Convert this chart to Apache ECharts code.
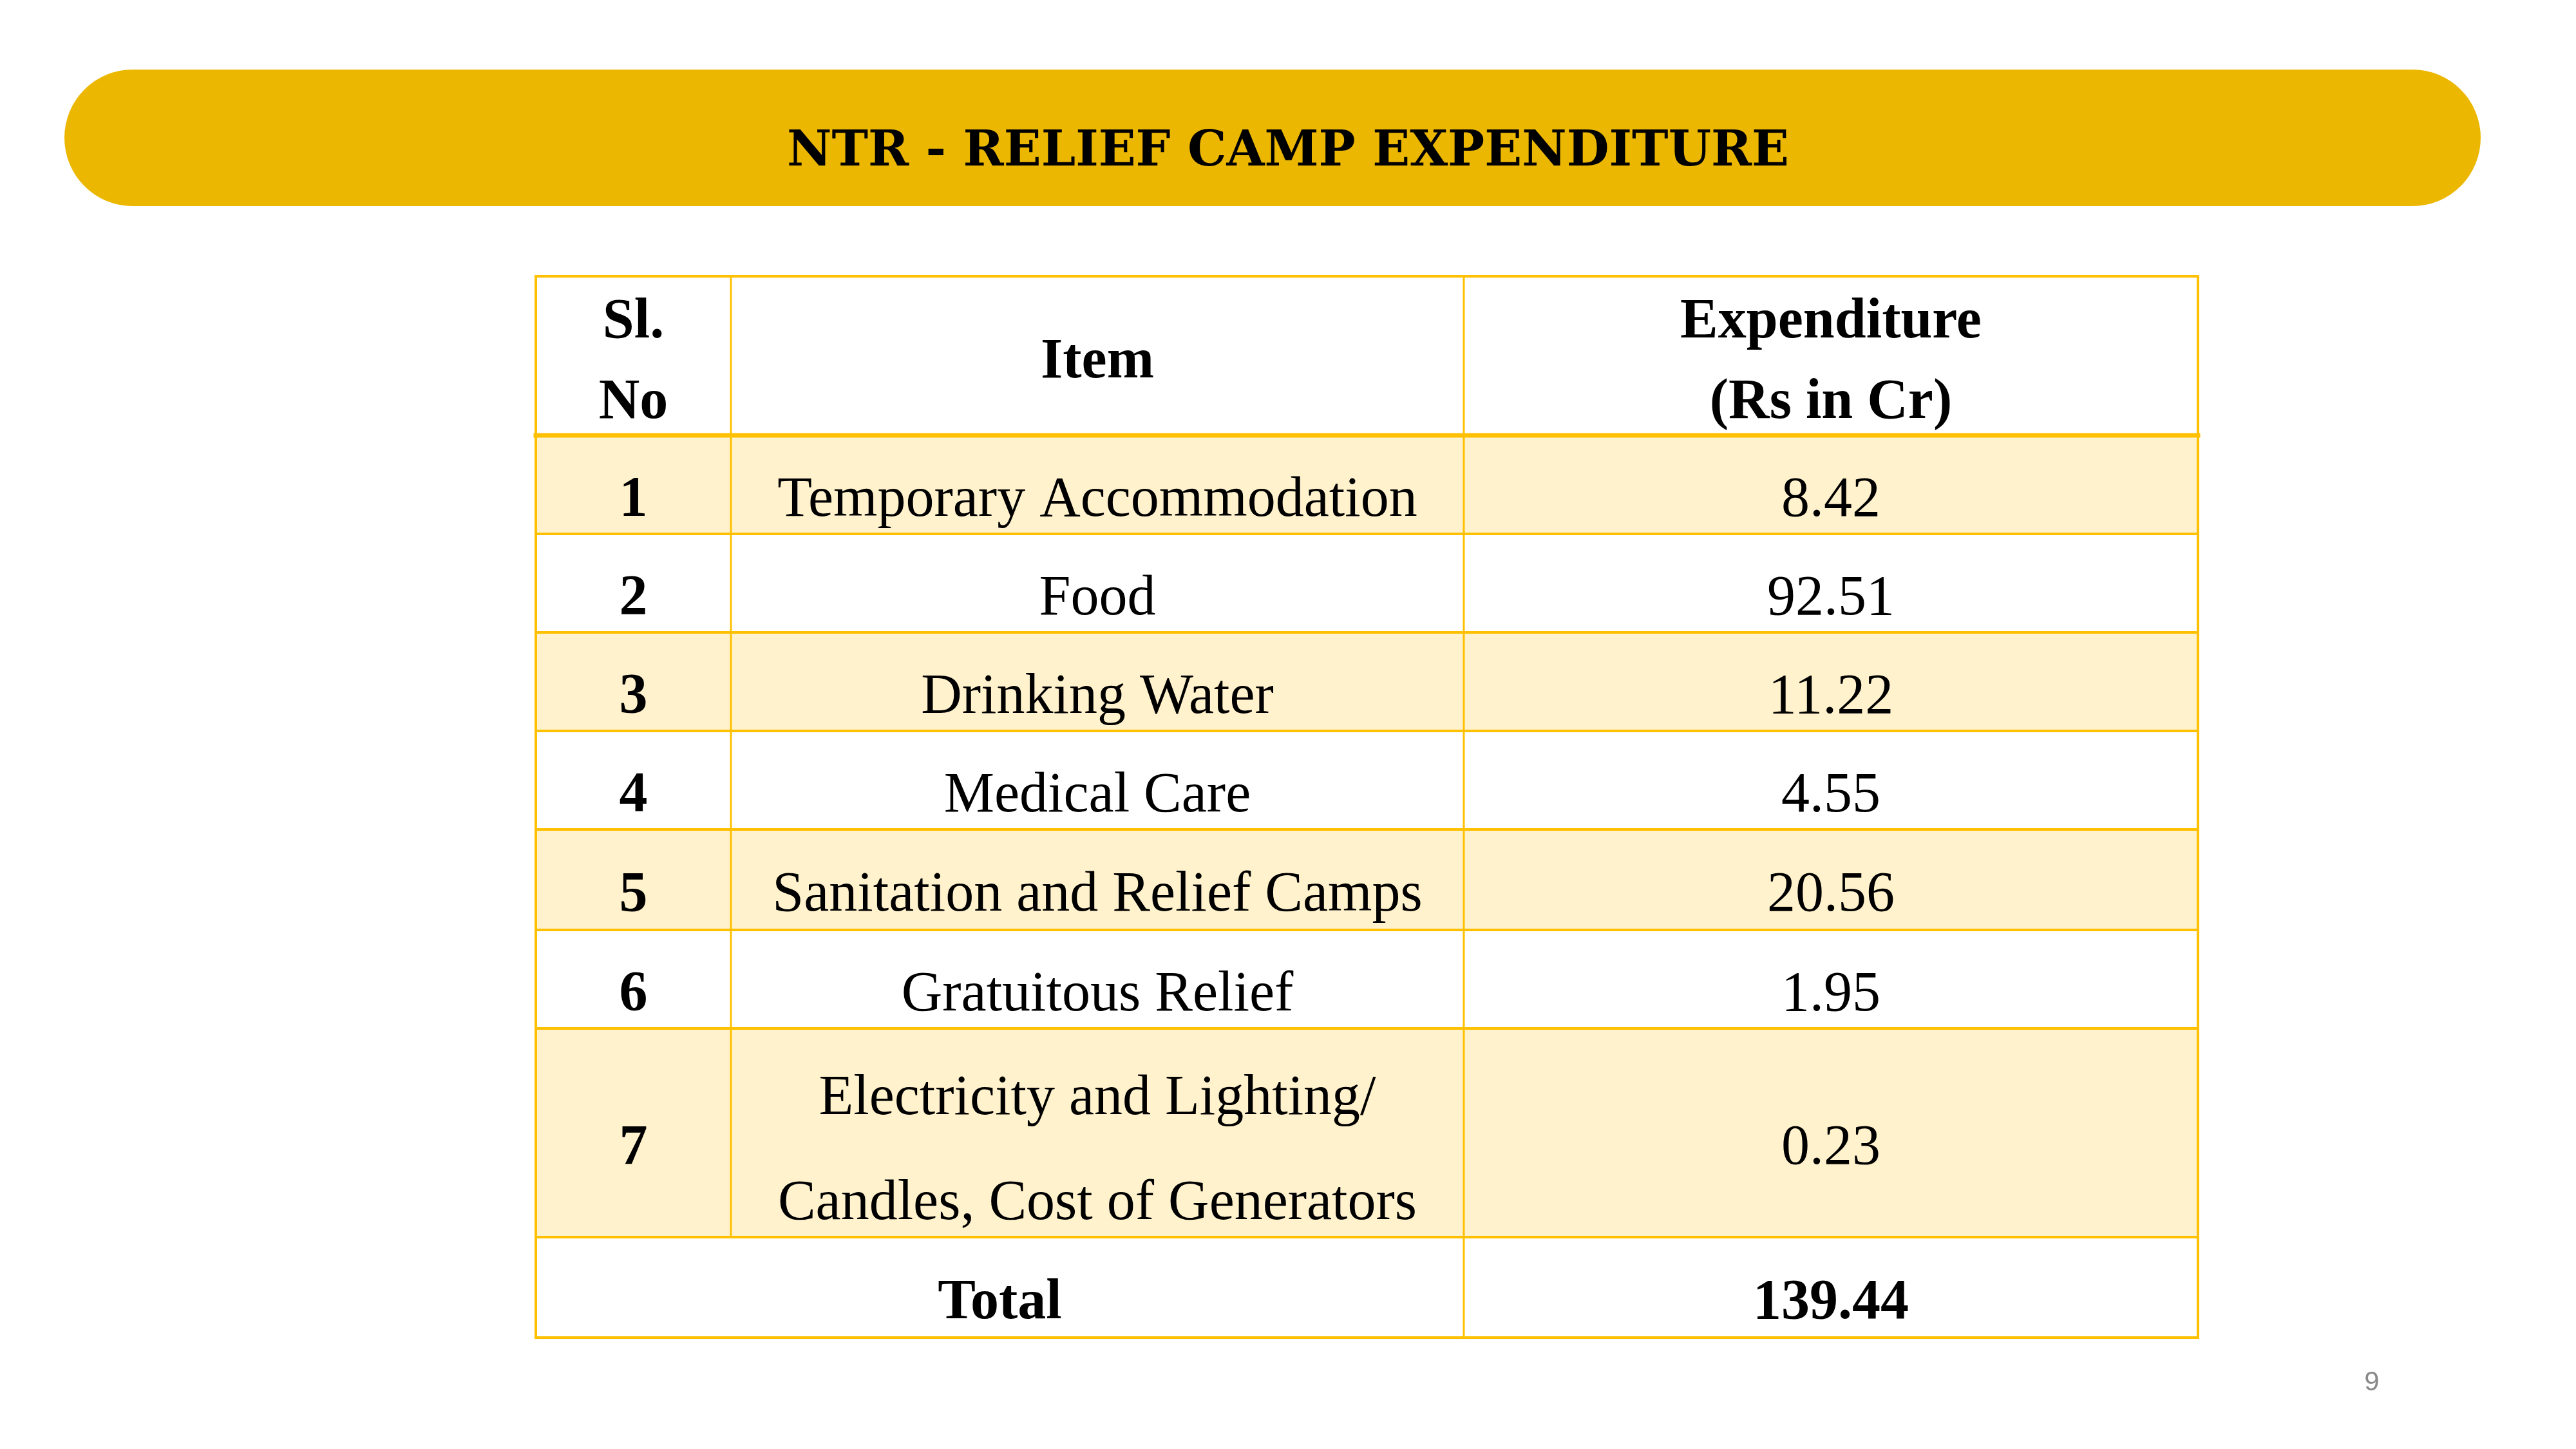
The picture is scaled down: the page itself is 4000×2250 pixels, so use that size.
<!DOCTYPE html>
<html>
<head>
<meta charset="utf-8">
<title>NTR - Relief Camp Expenditure</title>
<script src="https://cdn.jsdelivr.net/npm/echarts@6.0.0/dist/echarts.min.js"></script>
<style>
  html, body { margin: 0; padding: 0; background: #ffffff; }
  #chart { width: 4000px; height: 2250px; }
</style>
</head>
<body>
<div id="chart"></div>
<script>
// table data
const headers = ['Sl.\nNo', 'Item', 'Expenditure\n(Rs in Cr)'];
const serialNos = ['1', '2', '3', '4', '5', '6', '7'];
const items = [
  'Temporary Accommodation',
  'Food',
  'Drinking Water',
  'Medical Care',
  'Sanitation and Relief Camps',
  'Gratuitous Relief',
  'Electricity and Lighting/\nCandles, Cost of Generators'
];
const expenditure = [8.42, 92.51, 11.22, 4.55, 20.56, 1.95, 0.23];
const totalLabel = 'Total';
const totalExpenditure = 139.44;

// layout of the table (px)
const colWidths = [303, 1138, 1140];
const rowHeights = [247, 153, 153, 153, 153, 156, 153, 324, 156];
const colEdges = [0];
colWidths.forEach(w => colEdges.push(colEdges[colEdges.length - 1] + w));
const rowEdges = [0];
rowHeights.forEach(h => rowEdges.push(rowEdges[rowEdges.length - 1] + h));
const tableW = colEdges[colEdges.length - 1];
const tableH = rowEdges[rowEdges.length - 1];

const BORDER = '#FFC000';
const BAND = '#FFF2CC';
const SERIF = '"Liberation Serif", "Times New Roman", serif';

// build cells
const cells = [];
headers.forEach((h, c) => cells.push({ row: 0, col: c, span: 1, text: h, bold: true, band: false }));
serialNos.forEach((s, i) => {
  const row = i + 1;
  const band = i % 2 === 0;
  cells.push({ row, col: 0, span: 1, text: s, bold: true, band });
  cells.push({ row, col: 1, span: 1, text: items[i], bold: false, band });
  cells.push({ row, col: 2, span: 1, text: expenditure[i].toFixed(2), bold: false, band });
});
cells.push({ row: 8, col: 0, span: 2, text: totalLabel, bold: true, band: false });
cells.push({ row: 8, col: 2, span: 1, text: totalExpenditure.toFixed(2), bold: true, band: false });

// grid lines: [x0, y0, x1, y1, width]
const lines = [];
rowEdges.forEach((y, i) => {
  lines.push([0, y, tableW, y, i === 1 ? 7 : 4]);
});
lines.push([colEdges[0], 0, colEdges[0], tableH, 4]);
lines.push([colEdges[1], 0, colEdges[1], rowEdges[8], 3]);
lines.push([colEdges[2], 0, colEdges[2], tableH, 3]);
lines.push([colEdges[3], 0, colEdges[3], tableH, 4]);

const chart = echarts.init(document.getElementById('chart'));

const option = {
  animation: false,
  backgroundColor: '#ffffff',
  grid: { left: 832, top: 429, width: tableW, height: tableH },
  xAxis: { type: 'value', min: 0, max: tableW, show: false },
  yAxis: { type: 'value', min: 0, max: tableH, inverse: true, show: false },
  graphic: [
    {
      type: 'rect',
      shape: { x: 100, y: 108, width: 3752, height: 212, r: 106 },
      style: { fill: '#ECB700' },
      z: 0
    },
    {
      type: 'text',
      x: 2000,
      y: 237,
      style: {
        text: 'NTR - RELIEF CAMP EXPENDITURE',
        font: 'bold 76px "DejaVu Serif", serif',
        fill: '#000000',
        align: 'center',
        verticalAlign: 'middle'
      },
      z: 1
    },
    {
      type: 'text',
      x: 3683,
      y: 2147,
      style: {
        text: '9',
        font: '42px "Liberation Sans", sans-serif',
        fill: '#898989',
        align: 'center',
        verticalAlign: 'middle'
      }
    }
  ],
  series: [
    {
      type: 'custom',
      name: 'cells',
      encode: { x: [0, 2], y: [1, 3] },
      data: cells.map(c => [colEdges[c.col], rowEdges[c.row], colEdges[c.col + c.span], rowEdges[c.row + 1]]),
      renderItem: function (params, api) {
        const cell = cells[params.dataIndex];
        const p0 = api.coord([api.value(0), api.value(1)]);
        const p1 = api.coord([api.value(2), api.value(3)]);
        const lh = cell.row === 0 ? 125 : 163;
        const dy = cell.row === 0 ? 11 : (cell.text.indexOf('\n') >= 0 ? 29 : 25);
        return {
          type: 'group',
          children: [
            {
              type: 'rect',
              shape: { x: p0[0], y: p0[1], width: p1[0] - p0[0], height: p1[1] - p0[1] },
              style: { fill: cell.band ? BAND : '#ffffff' }
            },
            {
              type: 'text',
              style: {
                text: cell.text,
                x: (p0[0] + p1[0]) / 2,
                y: (p0[1] + p1[1]) / 2 + dy,
                align: 'center',
                verticalAlign: 'middle',
                font: (cell.bold ? 'bold ' : '') + '88px ' + SERIF,
                lineHeight: lh,
                fill: '#000000'
              }
            }
          ]
        };
      },
      z: 2
    },
    {
      type: 'custom',
      name: 'borders',
      encode: { x: [0, 2], y: [1, 3] },
      data: lines,
      renderItem: function (params, api) {
        const a = api.coord([api.value(0), api.value(1)]);
        const b = api.coord([api.value(2), api.value(3)]);
        return {
          type: 'line',
          shape: { x1: a[0], y1: a[1], x2: b[0], y2: b[1] },
          style: { stroke: BORDER, lineWidth: api.value(4), lineCap: 'square' }
        };
      },
      z: 3
    }
  ]
};

chart.setOption(option);
</script>
</body>
</html>
